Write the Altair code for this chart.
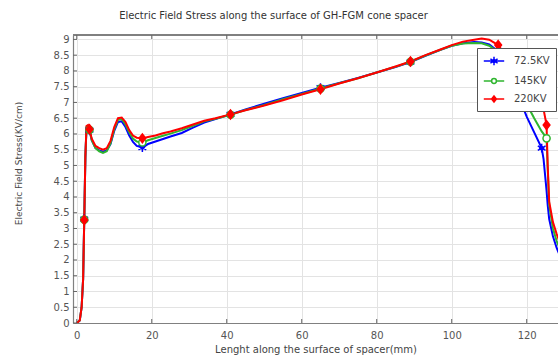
import altair as alt
import pandas as pd

# Surface positions along the spacer (mm), shared by all three voltage curves
x_mm = [0, 0.8, 1.3, 1.7, 2.0, 2.3, 2.6, 3.0, 3.4, 4.0,
        5, 6, 7, 8, 9, 10, 11, 12, 13, 14,
        15, 16, 17.5, 19, 21, 23, 25, 28, 31, 34,
        37, 41, 45, 50, 55, 60, 65, 70, 75, 80,
        85, 89, 93, 97, 100, 103, 106, 108, 110, 112.4,
        114, 116, 118, 120, 122, 124, 124.5, 125.3, 125.6, 126,
        127, 128, 129, 130]

# Electric field stress (kV/cm) for each applied voltage
stress_72 = [0.0, 0.08, 0.5, 1.4, 3.3, 5.25, 6.2, 6.22, 6.12, 5.8,
             5.55, 5.48, 5.44, 5.48, 5.68, 6.1, 6.38, 6.4, 6.22, 5.95,
             5.75, 5.62, 5.57, 5.68, 5.76, 5.84, 5.92, 6.03, 6.2, 6.36,
             6.47, 6.62, 6.78, 6.96, 7.13, 7.3, 7.47, 7.62, 7.78, 7.95,
             8.12, 8.28, 8.48, 8.67, 8.8, 8.88, 8.92, 8.9, 8.84, 8.62,
             8.3, 7.75, 7.15, 6.55, 6.05, 5.55, 5.2, 4.2, 3.75, 3.3,
             2.75, 2.38, 2.1, 1.85]
stress_145 = [0.0, 0.08, 0.5, 1.4, 3.28, 5.28, 6.22, 6.25, 6.13, 5.8,
              5.55, 5.45, 5.4, 5.45, 5.7, 6.15, 6.45, 6.47, 6.3, 6.05,
              5.85, 5.76, 5.73, 5.8, 5.87, 5.94, 6.01, 6.12, 6.26, 6.4,
              6.48, 6.61, 6.76, 6.92, 7.1, 7.27, 7.44, 7.61, 7.77, 7.95,
              8.13, 8.29, 8.49, 8.67, 8.8, 8.87, 8.89, 8.88, 8.8, 8.6,
              8.35, 7.95, 7.45, 6.95, 6.5, 6.08, 6.0, 5.86, 4.9, 3.75,
              3.0, 2.6, 2.3, 2.05]
stress_220 = [0.0, 0.08, 0.5, 1.4, 3.27, 5.3, 6.25, 6.28, 6.15, 5.85,
              5.62, 5.55, 5.5, 5.55, 5.78, 6.22, 6.5, 6.52, 6.38, 6.12,
              5.95, 5.88, 5.86, 5.9, 5.95, 6.02, 6.08, 6.18, 6.3, 6.42,
              6.5, 6.62, 6.75, 6.9, 7.07, 7.25, 7.42, 7.6, 7.77, 7.95,
              8.14, 8.3, 8.5, 8.68, 8.82, 8.93, 8.99, 9.03, 8.99, 8.82,
              8.55, 8.15, 7.7, 7.3, 7.05, 6.88, 6.78, 6.28, 5.0, 3.85,
              3.2, 2.82, 2.5, 2.2]

# Positions (mm) where each curve carries a marker
marker_x_72 = [2.0, 3.4, 17.5, 41, 65, 89, 112.4, 124]
marker_x_145 = [2.0, 3.4, 17.5, 41, 65, 89, 112.4, 125.3]
marker_x_220 = [2.0, 3.4, 17.5, 41, 65, 89, 112.4, 125.3]

series_names = ["72.5KV", "145KV", "220KV"]
series_colors = ["#0000ff", "#2fb52f", "#ff0000"]
series_fills = ["#0000ff", "#ffffff", "#ff0000"]

x_ticks = [0, 20, 40, 60, 80, 100, 120]
y_ticks = [0, 0.5, 1, 1.5, 2, 2.5, 3, 3.5, 4, 4.5, 5, 5.5, 6, 6.5, 7, 7.5,
           8, 8.5, 9]

# Marker glyphs on the curves and in the legend (legend ones carry a line stub)
marker_paths = [
    "M0,-1V1M-0.87,-0.5L0.87,0.5M-0.87,0.5L0.87,-0.5M-0.45,0L0,-0.45L0.45,0L0,0.45Z",
    "M-0.8,0A0.8,0.8 0 1,0 0.8,0A0.8,0.8 0 1,0 -0.8,0Z",
    "M0,-1L0.75,0L0,1L-0.75,0Z",
]
legend_paths = [
    "M-1.7,0H1.7M0,-0.7V0.7M-0.6,-0.35L0.6,0.35M-0.6,0.35L0.6,-0.35M-0.3,0L0,-0.3L0.3,0L0,0.3Z",
    "M-1.7,0H-0.4M0.4,0H1.7M-0.4,0A0.4,0.4 0 1,0 0.4,0A0.4,0.4 0 1,0 -0.4,0Z",
    "M-1.7,0H1.7M0,-0.5L0.4,0L0,0.5L-0.4,0Z",
]

W, H = 485, 288
X_DOMAIN = [-1, 128.35]
Y_DOMAIN = [0, 9.14]
FONT = "DejaVu Sans"

curves = {"72.5KV": stress_72, "145KV": stress_145, "220KV": stress_220}
marks_at = {"72.5KV": marker_x_72, "145KV": marker_x_145, "220KV": marker_x_220}

rows, mrows = [], []
for i, name in enumerate(series_names):
    ys = curves[name]
    for x, y in zip(x_mm, ys):
        rows.append({"series": name, "x": x, "y": y, "color": series_colors[i]})
    for mx in marks_at[name]:
        y = ys[x_mm.index(mx)]
        mrows.append({"series": name, "x": mx, "y": y, "color": series_colors[i],
                      "fill": series_fills[i], "shape": marker_paths[i]})
df = pd.DataFrame(rows)
mdf = pd.DataFrame(mrows)

xs = alt.Scale(domain=X_DOMAIN, nice=False, zero=False)
ys_ = alt.Scale(domain=Y_DOMAIN, nice=False, zero=False)

x_axis = alt.Axis(values=x_ticks, format="d", grid=True, gridColor="#e3e3e3",
                  ticks=False, domainColor="#808080", domainWidth=1.2,
                  labelFont=FONT, labelFontSize=10, labelColor="#555555",
                  labelPadding=7, labelFlush=False,
                  title="Lenght along the surface of spacer(mm)",
                  titleFont=FONT, titleFontSize=10, titleFontWeight="normal",
                  titleColor="#444444", titlePadding=4)
y_axis = alt.Axis(values=y_ticks, format="~g", grid=True, gridColor="#e3e3e3",
                  ticks=False, domainColor="#808080", domainWidth=1.2,
                  labelFont=FONT, labelFontSize=10, labelColor="#555555",
                  labelPadding=4, labelFlush=False,
                  title="Electric Field Stress(KV/cm)",
                  titleFont=FONT, titleFontSize=9, titleFontWeight="normal",
                  titleColor="#444444", titleX=-55, titleY=128,
                  titleBaseline="middle", titleAlign="center")


def xq(field):
    return alt.X(field, scale=xs, axis=x_axis)


def yq(field):
    return alt.Y(field, scale=ys_, axis=y_axis)


base = alt.Chart(df)

# Curves, drawn low voltage first so the 220 kV curve sits on top
line_layers = []
for i, name in enumerate(series_names):
    line_layers.append(
        base.transform_filter(alt.datum.series == name)
        .mark_line(strokeWidth=2, clip=True)
        .encode(x=xq("x:Q"), y=yq("y:Q"),
                color=alt.Color("color:N", scale=None), order="x:Q")
    )

points = alt.Chart(mdf).mark_point(size=80, strokeWidth=1.5, opacity=1, clip=True).encode(
    x=xq("x:Q"), y=yq("y:Q"),
    stroke=alt.Stroke("color:N", scale=None),
    fill=alt.Fill("fill:N", scale=None),
    shape=alt.Shape("shape:N", scale=None),
)

leg = alt.Legend(title=None, orient="none", legendX=404, legendY=13,
                 strokeColor="#555555", fillColor="#ffffff", padding=6,
                 cornerRadius=0, symbolSize=144, symbolStrokeWidth=1.5,
                 symbolOffset=4, labelOffset=13, labelFont=FONT, labelFontSize=10,
                 labelColor="#444444", rowPadding=5)

# Legend-only layer: no marks survive the filter, the scales feed the legend
legend_layer = alt.Chart(df).transform_filter("false").mark_point(opacity=1).encode(
    x=xq("x:Q"), y=yq("y:Q"),
    shape=alt.Shape("series:N", scale=alt.Scale(domain=series_names, range=legend_paths),
                    legend=leg),
    stroke=alt.Stroke("series:N", scale=alt.Scale(domain=series_names, range=series_colors),
                      legend=leg),
    fill=alt.Fill("series:N", scale=alt.Scale(domain=series_names, range=series_fills),
                  legend=leg),
)

# Frame pieces: top border and inward tick marks
tick_x = pd.DataFrame({"x": x_ticks})
tick_y = pd.DataFrame({"y": y_ticks})
frame_top = alt.Chart(tick_x).mark_rule(color="#808080", strokeWidth=1.2).encode(
    x=alt.value(0), x2=alt.value(W), y=alt.value(0))
ticks_top = alt.Chart(tick_x).mark_rule(color="#666666").encode(
    x=xq("x:Q"), y=alt.value(0), y2=alt.value(4))
ticks_bottom = alt.Chart(tick_x).mark_rule(color="#666666").encode(
    x=xq("x:Q"), y=alt.value(H), y2=alt.value(H - 4))
ticks_left = alt.Chart(tick_y).mark_rule(color="#666666").encode(
    y=yq("y:Q"), x=alt.value(0), x2=alt.value(4))

chart = alt.layer(
    *line_layers, points, legend_layer, frame_top, ticks_top, ticks_bottom, ticks_left
).properties(
    width=W, height=H,
    title=alt.TitleParams(
        "Electric Field Stress along the surface of GH-FGM cone spacer",
        font=FONT, fontSize=10, fontWeight="normal", color="#333333",
        anchor="middle", frame="group", dx=-42, offset=13,
    ),
    autosize=alt.AutoSizeParams(type="none"),
    padding={"left": 73, "top": 35, "right": 0, "bottom": 37},
).configure_view(stroke=None).configure(background="#ffffff")

chart.save("out.html", embed_options={"renderer": "svg", "actions": False})
